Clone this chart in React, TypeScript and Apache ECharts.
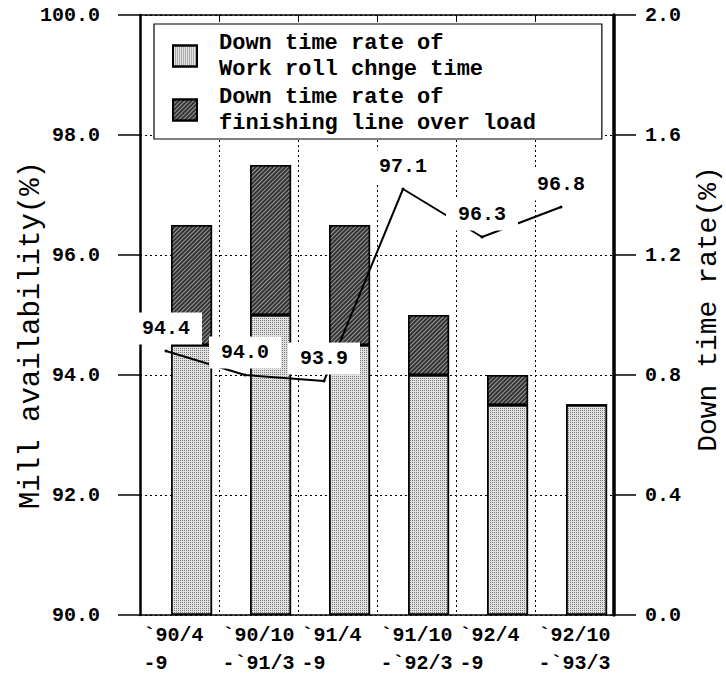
import React, { useEffect, useRef } from "react";
import * as echarts from "echarts";

// ---- data ----
const periodStart = ["`90/4", "`90/10", "`91/4", "`91/10", "`92/4", "`92/10"];
const periodEnd = ["-9", "-`91/3", "-9", "-`92/3", "-9", "-`93/3"];
const rollChangeRate = [0.9, 1.0, 0.9, 0.8, 0.7, 0.7];
const overloadRate = [0.4, 0.5, 0.4, 0.2, 0.1, 0];
const millAvailability = [94.4, 94.0, 93.9, 97.1, 96.3, 96.8];
const padding = [0, 0, 0, 0, 0, 0];
const leftTicks = { min: 90, max: 100, interval: 2 };
const rightTicks = { min: 0, max: 2, interval: 0.4 };
const nameRoll = "Down time rate of\nWork roll chnge time";
const nameOver = "Down time rate of\nfinishing line over load";

const FONT = "'Liberation Mono', 'DejaVu Sans Mono', monospace";

export default function App() {
  const ref = useRef<HTMLDivElement>(null);
  useEffect(() => {
    if (!ref.current) return;
    const chart = echarts.init(ref.current, undefined, { renderer: "svg" });
    const tickLabel = { fontFamily: FONT, fontSize: 20, fontWeight: "bold", color: "#000" };
    const option: any = {
      animation: false,
      backgroundColor: "#fff",
      grid: [
        { left: 140, right: 112, top: 15, bottom: 58 },
        { left: 126.5, right: 125.5, top: 15, bottom: 58 },
      ],
      legend: {
        data: [nameRoll, nameOver],
        orient: "vertical",
        left: 154,
        top: 24,
        itemWidth: 24,
        itemHeight: 21,
        itemGap: 2,
        padding: [6, 66, 3, 18],
        borderColor: "#000",
        borderWidth: 1.2,
        backgroundColor: "#fff",
        icon: "rect",
        textStyle: { fontFamily: FONT, fontSize: 22, lineHeight: 26, color: "#000", fontWeight: "bold", padding: [0, 0, 0, 17] },
        z: 10,
      },
      xAxis: [
        {
          type: "category",
          gridIndex: 0,
          position: "bottom",
          data: periodStart,
          axisLine: { lineStyle: { color: "#000", width: 1.5 } },
          axisTick: { show: false },
          axisLabel: {
            interval: 0,
            margin: 6,
            align: "center",
            formatter: (_v: string, i: number) => "{a|" + periodStart[i] + "}\n{a|" + periodEnd[i] + "}",
            rich: { a: { ...tickLabel, width: 72, align: "left", lineHeight: 28 } },
          },
          splitLine: { show: true, interval: 0, lineStyle: { color: "#000", type: [2, 3], width: 1 } },
        },
        {
          type: "category",
          gridIndex: 0,
          position: "top",
          data: periodStart,
          axisLine: { lineStyle: { color: "#000", width: 1.5 } },
          axisTick: { show: true, inside: true, length: 5, lineStyle: { color: "#000" } },
          axisLabel: { show: false },
        },
        { type: "category", gridIndex: 1, data: periodStart, show: false },
      ],
      yAxis: [
        {
          type: "value",
          gridIndex: 0,
          position: "left",
          ...leftTicks,
          axisLine: { show: true, lineStyle: { color: "#000", width: 2.5 } },
          axisTick: { show: true, inside: false, length: 22, lineStyle: { color: "#000", width: 1.5 } },
          axisLabel: { ...tickLabel, margin: 40, formatter: (v: number) => v.toFixed(1) },
          splitLine: { show: true, lineStyle: { color: "#000", type: [2, 3], width: 1 } },
        },
        {
          type: "value",
          gridIndex: 0,
          position: "right",
          ...rightTicks,
          axisLine: { show: true, lineStyle: { color: "#000", width: 3.5 } },
          axisTick: { show: true, inside: false, length: 22, lineStyle: { color: "#000", width: 1.5 } },
          axisLabel: { ...tickLabel, margin: 31, formatter: (v: number) => v.toFixed(1) },
          splitLine: { show: false },
        },
        { type: "value", gridIndex: 1, ...leftTicks, show: false, splitLine: { show: false } },
      ],
      series: [
        {
          name: "_pad",
          type: "bar",
          xAxisIndex: 0,
          yAxisIndex: 1,
          stack: "pad",
          data: padding,
          barWidth: 41,
          barGap: "-41%",
          silent: true,
          itemStyle: { color: "rgba(0,0,0,0)" },
        },
        {
          name: nameRoll,
          type: "bar",
          xAxisIndex: 0,
          yAxisIndex: 1,
          stack: "rate",
          data: rollChangeRate,
          barWidth: 41,
          barGap: "-41%",
          itemStyle: {
            color: "#e2e2e2",
            borderColor: "#000",
            borderWidth: 1.5,
            decal: { symbol: "rect", symbolSize: 1, color: "#777", dashArrayX: [1, 1], dashArrayY: [1, 1], rotation: 0 },
          },
        },
        {
          name: nameOver,
          type: "bar",
          xAxisIndex: 0,
          yAxisIndex: 1,
          stack: "rate",
          data: overloadRate,
          barWidth: 41,
          barGap: "-41%",
          itemStyle: {
            color: "#333",
            borderColor: "#000",
            borderWidth: 1.5,
            decal: { symbol: "rect", symbolSize: 1, color: "rgba(255,255,255,0.5)", dashArrayX: [1, 0], dashArrayY: [1, 2], rotation: -Math.PI / 4 },
          },
        },
        {
          name: "Mill availability",
          type: "line",
          xAxisIndex: 2,
          yAxisIndex: 2,
          data: millAvailability,
          symbol: "circle",
          symbolSize: 3,
          z: 5,
          itemStyle: { color: "#000" },
          lineStyle: { color: "#000", width: 2 },
          label: {
            show: true,
            position: "top",
            distance: 5,
            formatter: (p: any) => Number(p.value).toFixed(1),
            ...tickLabel,
            backgroundColor: "#fff",
            padding: [6, 12],
          },
        },
      ],
      graphic: [
        {
          type: "text",
          x: 31,
          y: 335,
          rotation: Math.PI / 2,
          style: { text: "Mill availability(%)", fontFamily: FONT, fontSize: 29, fill: "#000", align: "center", verticalAlign: "middle" },
        },
        {
          type: "text",
          x: 708,
          y: 309,
          rotation: Math.PI / 2,
          style: { text: "Down time rate(%)", fontFamily: FONT, fontSize: 28, fill: "#000", align: "center", verticalAlign: "middle" },
        },
      ],
    };
    chart.setOption(option);
    return () => chart.dispose();
  }, []);
  return (
    <div
      ref={ref}
      style={{ position: "fixed", left: 0, top: 0, width: 726, height: 673, background: "#fff" }}
    />
  );
}
